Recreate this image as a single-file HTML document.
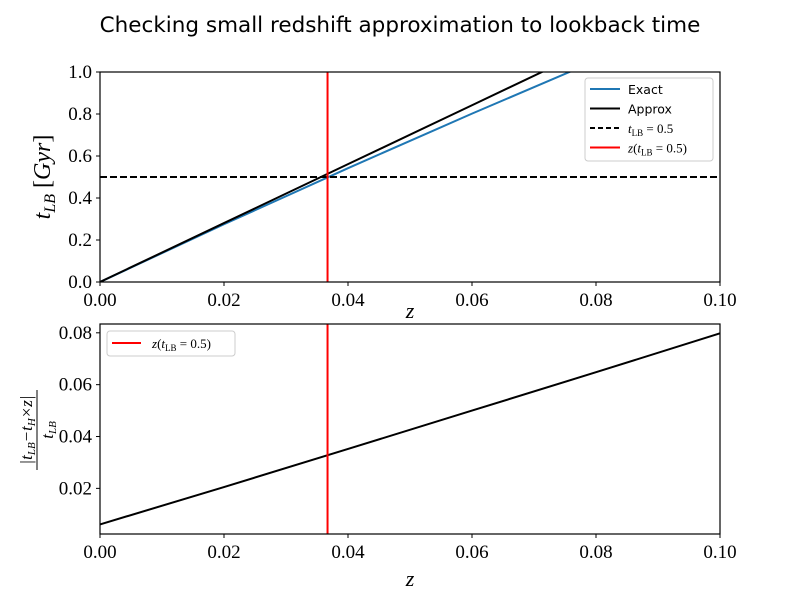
<!DOCTYPE html>
<html><head><meta charset="utf-8"><style>
body{margin:0;background:#fff}
svg text{font-family:"Liberation Serif",serif}
</style></head><body>
<svg id="chart" width="800" height="600" xmlns="http://www.w3.org/2000/svg">
<rect width="800" height="600" fill="#fff"/>
<text x="400" y="32" text-anchor="middle" font-size="21.5" style="font-family:'DejaVu Sans','Liberation Sans',sans-serif">Checking small redshift approximation to lookback time</text>
<g id="top"></g><g id="bot"></g>
</svg>
<script>
const zGrid=[0,0.02,0.04,0.06,0.08,0.1];
const relErr=[0.0061,0.0205,0.0352,0.0500,0.0648,0.0798];
const tH=14.03;
const zCross=0.0367;
const tLine=0.5;
const xTicks=["0.00","0.02","0.04","0.06","0.08","0.10"];
const yTicksTop=["0.0","0.2","0.4","0.6","0.8","1.0"];
const yTicksBot=["0.02","0.04","0.06","0.08"];
const NS="http://www.w3.org/2000/svg";
function mk(p,t,a){const e=document.createElementNS(NS,t);for(const k in a)e.setAttribute(k,a[k]);p.appendChild(e);return e;}
const L=100,R=720;
const sx=z=>L+(z-0)/(0.1)*(R-L);
const SUB='<tspan font-size="9" dy="3">LB</tspan><tspan dy="-3">';
const T=document.getElementById('top');
const tT=72,tB=282;const syT=v=>tB-v*(tB-tT);
const approx=zGrid.map(z=>tH*z);
const exact=zGrid.map((z,i)=>tH*z/(1+relErr[i]));
function clipPath(g,xs,ys,sy,col,name){
 const c=mk(g,'clipPath',{id:'c'+name});mk(c,'rect',{x:L,y:tT,width:R-L,height:tB-tT});
 const p=mk(g,'polyline',{points:xs.map((z,i)=>sx(z)+','+sy(ys[i])).join(' '),fill:'none',stroke:col,'stroke-width':2,'clip-path':'url(#c'+name+')'});
 
 
}
clipPath(T,zGrid,exact,syT,'#1f77b4','exact-line');
clipPath(T,zGrid,approx,syT,'#000','approx-line');
let e=mk(T,'line',{x1:L,x2:R,y1:syT(tLine),y2:syT(tLine),stroke:'#000','stroke-width':2,'stroke-dasharray':'7,3'});

e=mk(T,'line',{x1:sx(zCross),x2:sx(zCross),y1:tT,y2:tB,stroke:'red','stroke-width':2});

mk(T,'rect',{x:L,y:tT,width:R-L,height:tB-tT,fill:'none',stroke:'#000','stroke-width':1.2});
function xAxis(g,bot,lbly){
 xTicks.forEach((s,i)=>{const x=sx(zGrid[i]);mk(g,'line',{x1:x,x2:x,y1:bot,y2:bot+4,stroke:'#000'});
 const t=mk(g,'text',{x:x,y:bot+24,'text-anchor':'middle','font-size':19});t.textContent=s;
 });
 const t=mk(g,'text',{x:410,y:lbly,'text-anchor':'middle','font-size':22,'font-style':'italic'});t.textContent='z';
 
}
xAxis(T,tB,318);
yTicksTop.forEach(s=>{const y=syT(+s);mk(T,'line',{x1:L-4,x2:L,y1:y,y2:y,stroke:'#000'});
 const t=mk(T,'text',{x:L-8,y:y+6,'text-anchor':'end','font-size':19});t.textContent=s;
 });
e=mk(T,'text',{x:0,y:0,'text-anchor':'middle','font-size':24,'font-style':'italic',transform:'translate(50,177) rotate(-90)'});
e.innerHTML='t<tspan font-size="16" dy="5">LB</tspan><tspan dy="-5" font-style="normal"> [</tspan>Gyr<tspan font-style="normal">]</tspan>';

const lg=mk(T,'g',{});
mk(lg,'rect',{x:585,y:78,width:128,height:83,rx:3,fill:'#fff',stroke:'#ccc'});
[['#1f77b4','','Exact'],['#000','','Approx'],['#000','7,3','<tspan font-style="italic">t</tspan>'+SUB+' = 0.5</tspan>'],['red','','<tspan font-style="italic">z</tspan>(<tspan font-style="italic">t</tspan>'+SUB+' = 0.5)</tspan>']].forEach((d,i)=>{
 const y=89+i*19.5;const a={x1:590,x2:620,y1:y,y2:y,stroke:d[0],'stroke-width':2};if(d[1])a['stroke-dasharray']='5,3';mk(lg,'line',a);
 const t=mk(lg,'text',{x:628,y:y+5,'font-size':i<2?12.5:13,style:i<2?"font-family:'DejaVu Sans',sans-serif":""});t.innerHTML=d[2];
 });
const B=document.getElementById('bot');
const bT=324,bB=534,vMin=0.0024,vMax=0.0834;const syB=v=>bB-(v-vMin)/(vMax-vMin)*(bB-bT);
e=mk(B,'polyline',{points:zGrid.map((z,i)=>sx(z)+','+syB(relErr[i])).join(' '),fill:'none',stroke:'#000','stroke-width':2});

e=mk(B,'line',{x1:sx(zCross),x2:sx(zCross),y1:bT,y2:bB,stroke:'red','stroke-width':2});

mk(B,'rect',{x:L,y:bT,width:R-L,height:bB-bT,fill:'none',stroke:'#000','stroke-width':1.2});
xAxis(B,bB,586);
yTicksBot.forEach(s=>{const y=syB(+s);mk(B,'line',{x1:L-4,x2:L,y1:y,y2:y,stroke:'#000'});
 const t=mk(B,'text',{x:L-8,y:y+6,'text-anchor':'end','font-size':19});t.textContent=s;
 });
const yl=mk(B,'g',{transform:'translate(32,430) rotate(-90)'});

e=mk(yl,'text',{x:0,y:0,'text-anchor':'middle','font-size':17,'font-style':'italic'});
e.innerHTML='|t<tspan font-size="11" dy="3">LB</tspan><tspan dy="-3">−t</tspan><tspan font-size="11" dy="3">H</tspan><tspan dy="-3">×z|</tspan>';
mk(yl,'line',{x1:-40,x2:40,y1:5,y2:5,stroke:'#000'});
e=mk(yl,'text',{x:0,y:21,'text-anchor':'middle','font-size':17,'font-style':'italic'});
e.innerHTML='t<tspan font-size="11" dy="3">LB</tspan>';
const lb=mk(B,'g',{});
mk(lb,'rect',{x:107,y:331,width:128,height:25,rx:3,fill:'#fff',stroke:'#ccc'});
mk(lb,'line',{x1:112,x2:141,y1:343,y2:343,stroke:'red','stroke-width':2});
e=mk(lb,'text',{x:152,y:348,'font-size':13});
e.innerHTML='<tspan font-style="italic">z</tspan>(<tspan font-style="italic">t</tspan>'+SUB+' = 0.5)</tspan>';

</script>
</body></html>
